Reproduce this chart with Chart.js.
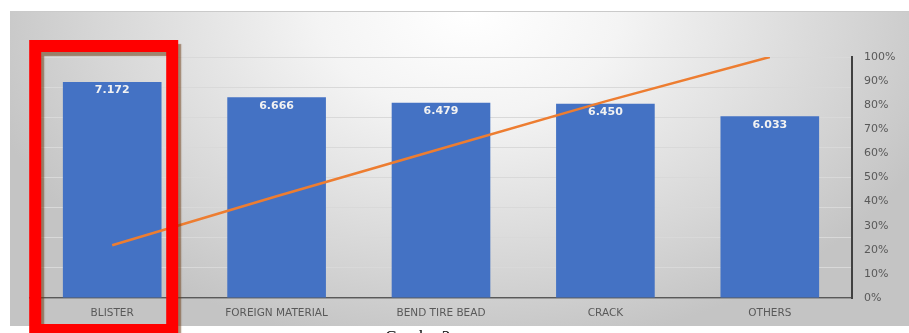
<!DOCTYPE html>
<html>
<head>
<meta charset="utf-8">
<script src="https://cdn.jsdelivr.net/npm/chart.js@4.4.1/dist/chart.umd.min.js"></script>
<style>
  html, body { margin: 0; padding: 0; background: #fff; overflow: hidden; }
  #wrap { position: relative; width: 909px; height: 333px; }
  #bg {
    position: absolute; left: 10px; top: 11px; width: 899px; height: 314px;
    border-top: 1px solid #cacaca;
    background: radial-gradient(ellipse 500px 340px at 460px 0px, #ffffff 0%, #f4f4f4 30%, #d6d6d6 75%, #c4c4c4 100%);
  }
  #chart { position: absolute; left: 0; top: 0; }
  #caption {
    position: absolute; left: 385px; top: 327px;
    font: 17px "Liberation Serif", serif; color: #000; white-space: nowrap;
  }
</style>
</head>
<body>
<div id="wrap">
  <div id="bg"></div>
  <canvas id="chart" width="909" height="333"></canvas>
  <div id="caption">Graph - 3</div>
</div>
<script>
const categories = ['BLISTER', 'FOREIGN MATERIAL', 'BEND TIRE BEAD', 'CRACK', 'OTHERS'];
const values = [7.172, 6.666, 6.479, 6.450, 6.033];
const cumulativePct = [21.9, 42.2, 61.9, 81.6, 100];

// white value text at the top inside each bar
const barLabels = {
  id: 'barLabels',
  afterDatasetsDraw(chart) {
    const ctx = chart.ctx;
    const meta = chart.getDatasetMeta(1);
    ctx.save();
    ctx.font = 'bold 11px "DejaVu Sans"';
    ctx.fillStyle = '#f2f2f2';
    ctx.textAlign = 'center';
    ctx.textBaseline = 'top';
    meta.data.forEach((bar, i) => {
      ctx.fillText(values[i].toFixed(3), bar.x, bar.y + 3);
    });
    ctx.restore();
  }
};

// red highlight box around the first category
const highlight = {
  id: 'highlight',
  afterDraw(chart) {
    const ctx = chart.ctx;
    const cx = chart.scales.x.getPixelForValue(0);
    ctx.save();
    ctx.shadowColor = 'rgba(110,60,20,0.55)';
    ctx.shadowOffsetX = 3;
    ctx.shadowOffsetY = 4;
    ctx.shadowBlur = 1;
    ctx.strokeStyle = '#ff0000';
    ctx.lineWidth = 12;
    ctx.strokeRect(cx - 77, 46, 137, 284);
    ctx.restore();
  }
};

new Chart(document.getElementById('chart'), {
  data: {
    labels: categories,
    datasets: [
      {
        type: 'line',
        data: cumulativePct,
        yAxisID: 'y2',
        borderColor: '#ED7D31',
        borderWidth: 2.5,
        pointRadius: 0,
        tension: 0,
        order: 0
      },
      {
        type: 'bar',
        data: values,
        yAxisID: 'y',
        backgroundColor: '#4472C4',
        barPercentage: 0.6,
        categoryPercentage: 1,
        order: 1
      }
    ]
  },
  options: {
    responsive: false,
    animation: false,
    layout: { padding: { left: 30, top: 57, right: 0, bottom: 0 } },
    plugins: { legend: { display: false }, tooltip: { enabled: false } },
    scales: {
      x: {
        grid: { drawOnChartArea: false, drawTicks: false },
        border: { display: true, color: '#595959', width: 1.5 },
        ticks: { color: '#595959', font: { family: 'DejaVu Sans', size: 10.5 }, padding: 9, maxRotation: 0 },
        afterFit(s) { s.height = 35; }
      },
      y: {
        min: 0, max: 8,
        ticks: { display: false, stepSize: 1 },
        grid: { color: '#d9d9d9', drawTicks: false },
        border: { display: false },
        afterFit(s) { s.width = 0; }
      },
      y2: {
        position: 'right',
        min: 0, max: 100,
        ticks: {
          stepSize: 10,
          color: '#595959',
          font: { family: 'DejaVu Sans', size: 11 },
          padding: 12,
          callback: v => v + '%'
        },
        grid: { drawOnChartArea: false, drawTicks: false },
        border: { display: true, color: '#404040', width: 2 },
        afterFit(s) { s.width = 57; }
      }
    }
  },
  plugins: [barLabels, highlight]
});
</script>
</body>
</html>
